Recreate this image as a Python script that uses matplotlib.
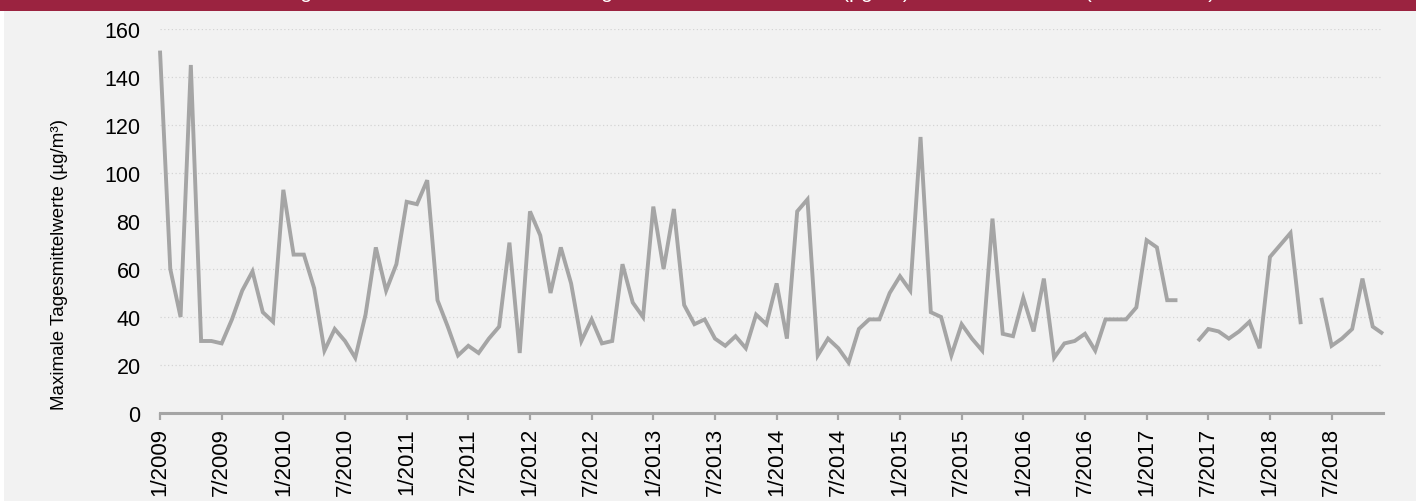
import numpy as np
import matplotlib
matplotlib.use("Agg")
import matplotlib.pyplot as plt
from matplotlib.patches import Rectangle

plt.rcParams['font.family'] = ['Liberation Sans', 'DejaVu Sans']

# ---- data (monthly, 1/2009 .. 12/2018; None = no value) ----
years = list(range(2009, 2019))
values = [
    151, 60, 40, 145, 30, 30, 29, 39, 51, 59, 42, 38,        # 2009
    93, 66, 66, 52, 26, 35, 30, 23, 41, 69, 51, 62,          # 2010
    88, 87, 97, 47, 36, 24, 28, 25, 31, 36, 71, 25,          # 2011
    84, 74, 50, 69, 54, 30, 39, 29, 30, 62, 46, 40,          # 2012
    86, 60, 85, 45, 37, 39, 31, 28, 32, 27, 41, 37,          # 2013
    54, 31, 84, 89, 24, 31, 27, 21, 35, 39, 39, 50,          # 2014
    57, 51, 115, 42, 40, 24, 37, 31, 26, 81, 33, 32,         # 2015
    48, 34, 56, 23, 29, 30, 33, 26, 39, 39, 39, 44,          # 2016
    72, 69, 47, 47, None, 30, 35, 34, 31, 34, 38, 27,        # 2017
    65, 70, 75, 37, None, 48, 28, 31, 35, 56, 36, 33,        # 2018
]
tick_labels = [f"{m}/{y}" for y in years for m in (1, 7)]
y_ticks = [0, 20, 40, 60, 80, 100, 120, 140, 160]
title = "Entwicklung der monatlichen maximalen Tagesmittelwerte von PM10 (µg/m³) an der Messstelle (2009 – 2018)"
ylabel = "Maximale Tagesmittelwerte (µg/m³)"

# ---- figure ----
W, H = 1416, 502
fig = plt.figure(figsize=(W / 100, H / 100), dpi=100)
fig.patch.set_facecolor("#F2F2F2")

# header band
fig.patches.append(Rectangle((0, 1 - 12 / H), 1, 12 / H, transform=fig.transFigure,
                             facecolor="#9B2340", edgecolor="none", zorder=0))
fig.patches.append(Rectangle((0, 0), 4 / W, 1 - 12 / H, transform=fig.transFigure,
                             facecolor="white", edgecolor="none", zorder=0))
fig.text(0.5, 1 + 1.5 / H, title, color="white", fontsize=15, ha="center", va="baseline")

left, right, top, bottom = 160, 1383, 30, 414
ax = fig.add_axes([left / W, 1 - bottom / H, (right - left) / W, (bottom - top) / H])
ax.set_facecolor("#F2F2F2")

x = np.arange(len(values))
y = np.array([np.nan if v is None else v for v in values], dtype=float)
ax.plot(x, y, color="#A5A5A5", lw=2.8, solid_joinstyle="miter", solid_capstyle="butt",
        clip_on=False, zorder=3)

ax.set_xlim(0, len(values) - 1)
ax.set_ylim(0, 160)
ax.set_yticks(y_ticks)
ax.set_yticklabels([str(t) for t in y_ticks])
ax.set_xticks(np.arange(0, len(values), 6))
ax.set_xticklabels(tick_labels, rotation=90)

for s in ("top", "right", "left"):
    ax.spines[s].set_visible(False)
ax.spines["bottom"].set_color("#A5A5A5")
ax.spines["bottom"].set_linewidth(2.2)

ax.tick_params(axis="y", length=0, pad=14, labelsize=15.5, labelcolor="#000000")
ax.tick_params(axis="x", length=5, width=1.6, color="#A5A5A5", pad=5,
               labelsize=16, labelcolor="#000000")

for t in y_ticks[1:]:
    ax.axhline(t, color="#D4D4D4", lw=0.9, ls=(0, (1, 2)), zorder=1)

ax.set_ylabel(ylabel, fontsize=13.5, color="#000000")
ax.yaxis.set_label_coords((68 - left) / (right - left), (bottom - 264) / (bottom - top))

fig.savefig("out.png", dpi=100, facecolor=fig.get_facecolor())
